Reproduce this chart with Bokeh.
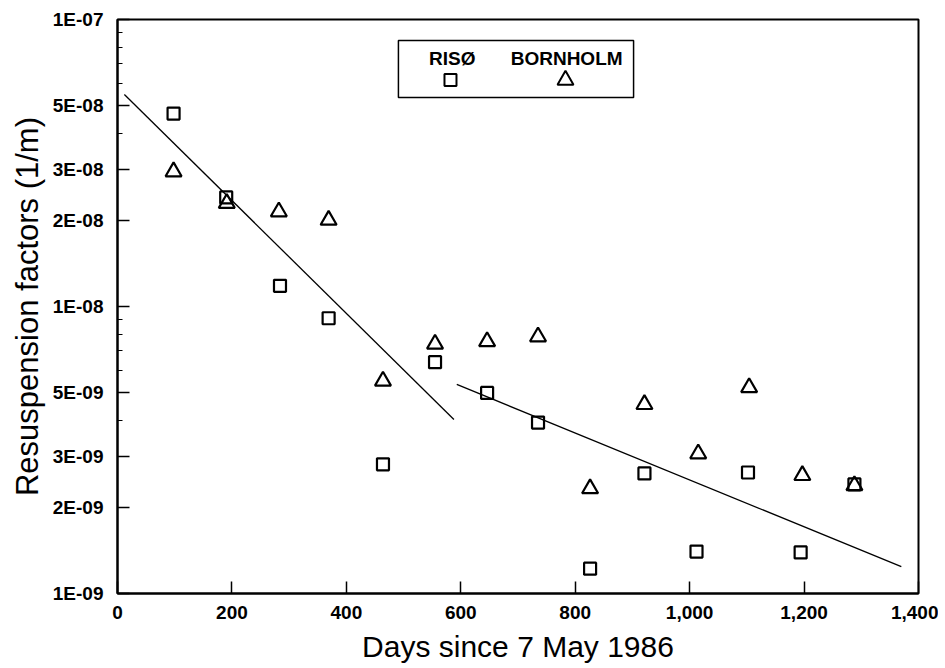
from bokeh.plotting import figure
from bokeh.models import FixedTicker, NumeralTickFormatter, BoxAnnotation, Label, Range1d
from bokeh.embed import file_html
from bokeh.resources import INLINE

# ---- data ----
riso_days = [98, 190, 284, 369, 464, 555, 646, 735, 826, 921, 1012, 1102, 1194, 1288]
riso_vals = [4.7e-08, 2.4e-08, 1.18e-08, 9.1e-09, 2.82e-09, 6.4e-09, 5.0e-09,
             3.94e-09, 1.22e-09, 2.62e-09, 1.40e-09, 2.64e-09, 1.39e-09, 2.40e-09]

born_days = [98, 191, 282, 369, 464, 555, 646, 735, 826, 921, 1015, 1104, 1197, 1288]
born_vals = [2.95e-08, 2.29e-08, 2.14e-08, 2.0e-08, 5.5e-09, 7.4e-09, 7.55e-09,
             7.85e-09, 2.32e-09, 4.56e-09, 3.07e-09, 5.22e-09, 2.58e-09, 2.38e-09]

fit1_days = [12, 588]
fit1_vals = [5.48e-08, 4.04e-09]
fit2_days = [593, 1370]
fit2_vals = [5.35e-09, 1.24e-09]

x_ticks = [0, 200, 400, 600, 800, 1000, 1200, 1400]
y_ticks = [1e-09, 2e-09, 3e-09, 5e-09, 1e-08, 2e-08, 3e-08, 5e-08, 1e-07]
y_tick_labels = ["1E-09", "2E-09", "3E-09", "5E-09", "1E-08", "2E-08", "3E-08", "5E-08", "1E-07"]
y_minor = [4e-09, 6e-09, 7e-09, 8e-09, 9e-09, 4e-08, 6e-08, 7e-08, 8e-08, 9e-08]

series_names = ["RISØ", "BORNHOLM"]
# legend layout (data coordinates)
legend_marker_days = [582, 783]
legend_text_days = [585, 785]
legend_marker_val = 6.15e-08
legend_text_val = 7.3e-08
legend_box = dict(left=491, right=902, top=8.45e-08, bottom=5.35e-08)

FONT = "Liberation Sans"

p = figure(frame_width=801, frame_height=574, y_axis_type="log",
           x_range=Range1d(0, 1400), y_range=Range1d(1e-09, 1e-07),
           output_backend="svg", toolbar_location=None,
           min_border_left=117, min_border_top=19, min_border_right=20, min_border_bottom=74)
p.background_fill_color = "white"
p.border_fill_color = "white"
p.grid.visible = False
p.outline_line_color = "black"
p.outline_line_width = 2

# fit lines
p.line(fit1_days, fit1_vals, line_color="black", line_width=1.3)
p.line(fit2_days, fit2_vals, line_color="black", line_width=1.3)

# points
p.scatter(riso_days, riso_vals, marker="square", size=12, line_color="black",
          line_width=2.2, fill_alpha=0)
p.scatter(born_days, born_vals, marker="triangle", size=16, line_color="black",
          line_width=2.2, fill_alpha=0)

# legend
p.add_layout(BoxAnnotation(left=legend_box["left"], right=legend_box["right"],
                           top=legend_box["top"], bottom=legend_box["bottom"],
                           fill_alpha=0, line_color="black", line_width=1.5, line_alpha=1))
p.scatter([legend_marker_days[0]], [legend_marker_val], marker="square", size=12,
          line_color="black", line_width=2, fill_alpha=0)
p.scatter([legend_marker_days[1]], [legend_marker_val], marker="triangle", size=16,
          line_color="black", line_width=2, fill_alpha=0)
for name, d in zip(series_names, legend_text_days):
    p.add_layout(Label(x=d, y=legend_text_val, text=name, text_align="center",
                       text_baseline="middle", text_font=FONT, text_font_size="19px",
                       text_font_style="bold", text_color="black"))

# axes
p.xaxis.ticker = FixedTicker(ticks=x_ticks)
p.xaxis.formatter = NumeralTickFormatter(format="0,0")
p.yaxis.ticker = FixedTicker(ticks=y_ticks, minor_ticks=y_minor)
p.yaxis.major_label_overrides = {t: l for t, l in zip(y_ticks, y_tick_labels)}

for ax in (p.xaxis, p.yaxis):
    ax.axis_line_width = 2
    ax.axis_line_color = "black"
    ax.major_tick_in = 12
    ax.major_tick_out = 0
    ax.major_tick_line_width = 1.5
    ax.major_tick_line_color = "black"
    ax.major_label_text_font = FONT
    ax.major_label_text_font_size = "19px"
    ax.major_label_text_font_style = "bold"
    ax.major_label_text_color = "black"
    ax.axis_label_text_font = FONT
    ax.axis_label_text_font_style = "normal"
    ax.axis_label_text_color = "black"

p.xaxis.axis_label_text_font_size = "30px"
p.yaxis.axis_label_text_font_size = "31px"
p.xaxis.minor_tick_in = 0
p.xaxis.minor_tick_out = 0
p.yaxis.minor_tick_in = 5
p.yaxis.minor_tick_out = 0
p.yaxis.minor_tick_line_color = "black"
p.yaxis.minor_tick_line_width = 1.2

p.xaxis.major_label_standoff = 12
p.yaxis.major_label_standoff = 14
p.xaxis.axis_label_standoff = 8
p.yaxis.axis_label_standoff = 5
p.xaxis.axis_label = "Days since 7 May 1986"
p.yaxis.axis_label = "Resuspension factors (1/m)"

open("out.html", "w").write(file_html(p, INLINE))
